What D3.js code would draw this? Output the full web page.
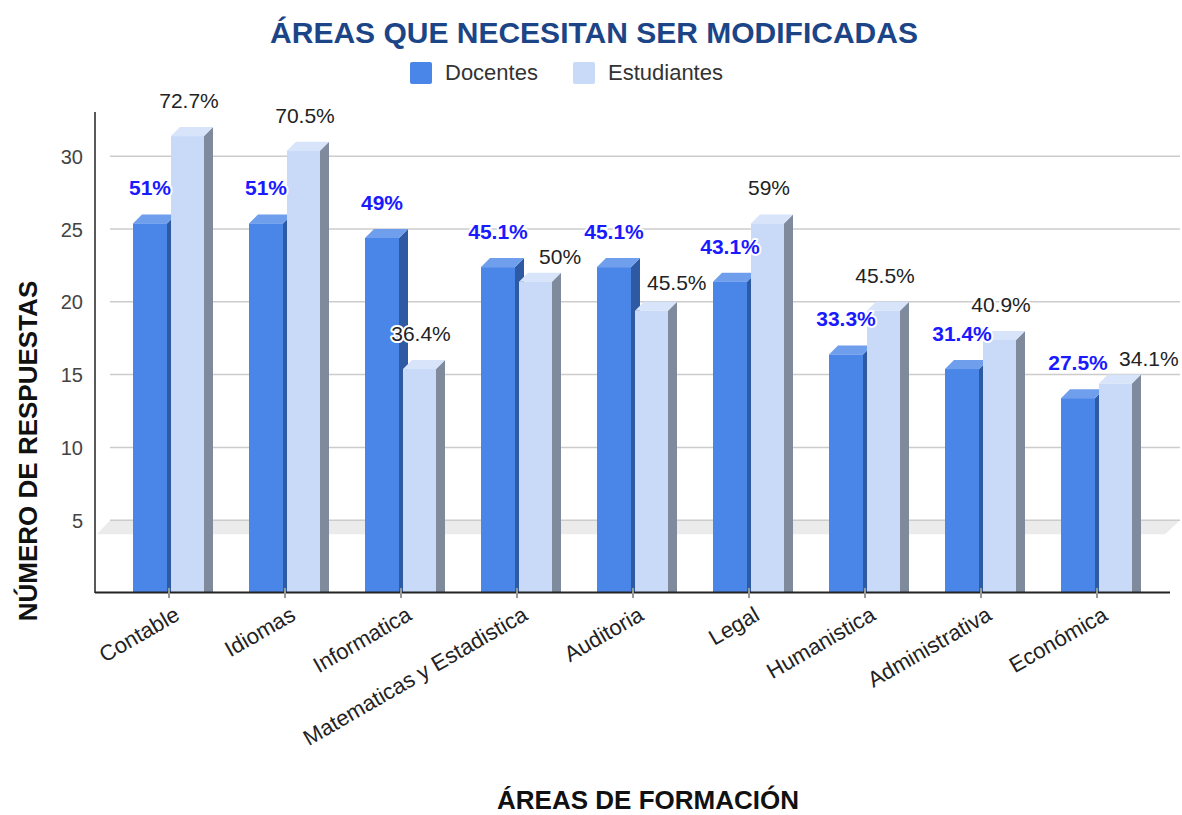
<!DOCTYPE html>
<html>
<head>
<meta charset="utf-8">
<script src="https://cdn.jsdelivr.net/npm/d3@7/dist/d3.min.js"></script>
<style>
  html, body { margin: 0; padding: 0; background: #fff; }
  svg { display: block; }
  text { font-family: "Liberation Sans", Arial, sans-serif; }
</style>
</head>
<body>
<svg id="chart" width="1182" height="815"></svg>
<script>
// Áreas de formación evaluadas
const categories = ["Contable", "Idiomas", "Informatica", "Matematicas y Estadistica",
  "Auditoria", "Legal", "Humanistica", "Administrativa", "Económica"];
// Número de respuestas por grupo
const docentes = [26, 26, 25, 23, 23, 22, 17, 16, 14];
const estudiantes = [32, 31, 16, 22, 20, 26, 20, 18, 15];
// Porcentajes mostrados sobre cada barra
const docentesPct = ["51%", "51%", "49%", "45.1%", "45.1%", "43.1%", "33.3%", "31.4%", "27.5%"];
const estudiantesPct = ["72.7%", "70.5%", "36.4%", "50%", "45.5%", "59%", "45.5%", "40.9%", "34.1%"];
const yTicks = [5, 10, 15, 20, 25, 30];
const seriesNames = ["Docentes", "Estudiantes"];

const svg = d3.select("#chart");

const plot = { left: 95, right: 1170, top: 112, base: 593 };
const depth = { dx: 9, dy: 9 };

// category centres: step 116, first centre at 169
const x = d3.scaleBand().domain(categories).range([111, 111 + 116 * categories.length]);
const y = d3.scaleLinear().domain([0, 30]).range([plot.base, plot.base - 30 * 14.56]);

const palette = {
  doc: { front: "#4a86e8", top: "#6f9eec", side: "#2d5aa3" },
  est: { front: "#c9daf8", top: "#d8e4fa", side: "#7f8b9d" }
};

// Title
svg.append("text").attr("x", 594).attr("y", 43).attr("text-anchor", "middle")
  .attr("font-size", 30).attr("font-weight", "bold").attr("fill", "#1c4587")
  .text("ÁREAS QUE NECESITAN SER MODIFICADAS");

// Legend
const legend = svg.append("g");
const legendItems = [
  { name: seriesNames[0], color: palette.doc.front, x: 410 },
  { name: seriesNames[1], color: palette.est.front, x: 573 }
];
legendItems.forEach(it => {
  legend.append("rect").attr("x", it.x).attr("y", 62).attr("width", 22).attr("height", 22)
    .attr("rx", 2).attr("fill", it.color);
  legend.append("text").attr("x", it.x + 35).attr("y", 80).attr("font-size", 22)
    .attr("fill", "#333").text(it.name);
});

// Floor band at the lowest gridline
const floorY = y(5);
svg.append("path")
  .attr("d", `M${110},${floorY} L${1180},${floorY} L${1165},${floorY + 14} L${97},${floorY + 14} Z`)
  .attr("fill", "#ebebeb");

// Gridlines
svg.append("g").selectAll("line").data(yTicks).join("line")
  .attr("x1", 110).attr("x2", 1180)
  .attr("y1", d => y(d)).attr("y2", d => y(d))
  .attr("stroke", "#cccccc").attr("stroke-width", 1.5);

// Y axis labels
const yAxis = d3.axisLeft(y).tickValues(yTicks).tickSize(0).tickPadding(0);
const yg = svg.append("g").attr("transform", `translate(83,0)`).call(yAxis);
yg.select(".domain").remove();
yg.selectAll("text").attr("font-size", 20).attr("fill", "#444")
  .attr("font-family", "'Liberation Sans', Arial, sans-serif").attr("dy", "0.35em");

// 3D bars
function drawBar(g, x0, w, v, col) {
  const top = y(v) + depth.dy;
  const bottom = plot.base - 1;
  // side face
  g.append("path")
    .attr("d", `M${x0 + w},${top} L${x0 + w + depth.dx},${top - depth.dy} L${x0 + w + depth.dx},${bottom} L${x0 + w},${bottom} Z`)
    .attr("fill", col.side);
  // top face
  g.append("path")
    .attr("d", `M${x0},${top} L${x0 + depth.dx},${top - depth.dy} L${x0 + w + depth.dx},${top - depth.dy} L${x0 + w},${top} Z`)
    .attr("fill", col.top);
  // front face
  g.append("rect").attr("x", x0).attr("y", top).attr("width", w).attr("height", bottom - top)
    .attr("fill", col.front);
}

const bars = svg.append("g");
const barW = 34;
categories.forEach((c, i) => {
  const cx = x(c) + x.bandwidth() / 2;
  const g = bars.append("g");
  drawBar(g, cx - 36, barW, docentes[i], palette.doc);
  drawBar(g, cx + 2, barW - 1, estudiantes[i], palette.est);
});

// Value labels. A student label that would sit on the teacher label, or on
// the top of the teacher bar, is moved to the right of it and a bit lower.
const labels = svg.append("g");
const intersects = (a, b) => a.x + a.width > b.x && b.x + b.width > a.x &&
                             a.y + a.height > b.y && b.y + b.height > a.y;
categories.forEach((c, i) => {
  const cx = x(c) + x.bandwidth() / 2;
  const dl = labels.append("text").attr("x", cx - 19).attr("y", y(docentes[i]) - 19)
    .attr("text-anchor", "middle").attr("font-size", 21).attr("font-weight", "bold")
    .attr("fill", "#1a1aff").attr("stroke", "#fff").attr("stroke-width", 4)
    .attr("paint-order", "stroke").attr("stroke-linejoin", "round")
    .text(docentesPct[i]);
  const sl = labels.append("text").attr("x", cx + 20).attr("y", y(estudiantes[i]) - 19)
    .attr("text-anchor", "middle").attr("font-size", 21)
    .attr("fill", "#222").attr("stroke", "#fff").attr("stroke-width", 4)
    .attr("paint-order", "stroke").attr("stroke-linejoin", "round")
    .text(estudiantesPct[i]);
  const a = dl.node().getBBox(), b = sl.node().getBBox();
  const barRight = cx - 2 + depth.dx;
  const barTopZone = { x: cx - 36, y: y(docentes[i]), width: barRight - (cx - 36), height: 30 };
  if (intersects(a, b)) {
    const newLeft = a.x + a.width + 11;
    sl.attr("x", newLeft + b.width / 2).attr("y", +sl.attr("y") + 10);
  } else if (intersects(barTopZone, b)) {
    const newLeft = barRight + 7;
    sl.attr("x", newLeft + b.width / 2).attr("y", +sl.attr("y") + 7);
  }
});

// Axis lines
svg.append("line").attr("x1", plot.left).attr("x2", plot.left).attr("y1", plot.top).attr("y2", plot.base)
  .attr("stroke", "#222").attr("stroke-width", 1.5);
svg.append("line").attr("x1", plot.left).attr("x2", plot.right).attr("y1", plot.base - 0.5).attr("y2", plot.base - 0.5)
  .attr("stroke", "#222").attr("stroke-width", 2);

// X axis ticks and labels
const xAxis = d3.axisBottom(x).tickSize(6).tickPadding(8);
const xg = svg.append("g").attr("transform", `translate(0,${plot.base - 5})`).call(xAxis);
xg.select(".domain").remove();
xg.selectAll(".tick line").attr("stroke", "#999").attr("stroke-width", 2).attr("y2", 10);
xg.selectAll(".tick text")
  .attr("font-size", 22).attr("fill", "#222")
  .attr("font-family", "'Liberation Sans', Arial, sans-serif")
  .attr("text-anchor", "end")
  .attr("dy", "0")
  .attr("transform", "translate(12,31) rotate(-30)")
  .attr("y", 0).attr("x", 0);

// Axis titles
svg.append("text").attr("x", 648).attr("y", 809).attr("text-anchor", "middle")
  .attr("font-size", 26).attr("font-weight", "bold").attr("fill", "#111")
  .text("ÁREAS DE FORMACIÓN");
svg.append("text").attr("transform", "translate(37,451) rotate(-90)").attr("text-anchor", "middle")
  .attr("font-size", 26).attr("font-weight", "bold").attr("fill", "#111")
  .text("NÚMERO DE RESPUESTAS");
</script>
</body>
</html>
